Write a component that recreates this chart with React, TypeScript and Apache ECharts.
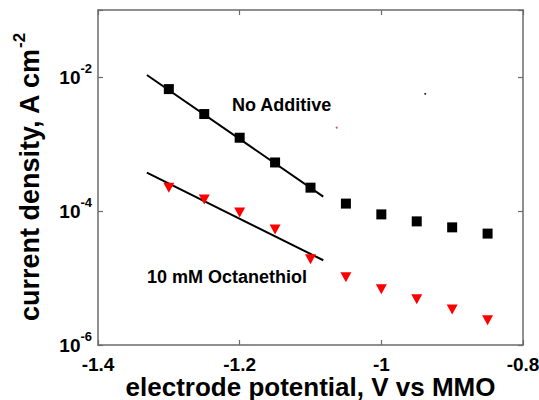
import React, { useEffect, useRef } from "react";
import * as echarts from "echarts";

const potentials = [-1.3, -1.25, -1.2, -1.15, -1.1, -1.05, -1.0, -0.95, -0.9, -0.85];
const noAdditive = [6.6e-3, 2.8e-3, 1.24e-3, 5.3e-4, 2.23e-4, 1.29e-4, 8.9e-5, 7.0e-5, 5.7e-5, 4.6e-5];
const octanethiol = [2.23e-4, 1.48e-4, 9.5e-5, 5.3e-5, 1.9e-5, 1.03e-5, 6.8e-6, 4.8e-6, 3.4e-6, 2.35e-6];
const fitX = [-1.331, -1.082];
const noAdditiveFit = [1.07e-2, 1.64e-4];
const octanethiolFit = [3.74e-4, 1.84e-5];
const strayBlack = [[-0.938, 5.6e-3]];
const strayRed = [[-1.063, 1.75e-3]];
const xTicks = [-1.4, -1.2, -1.0, -0.8];
const yTickExponents = [-6, -4, -2];

const FONT = "'Liberation Sans', Arial, Helvetica, sans-serif";
const FRAME = "#6b6b6b";

export default function App() {
  const ref = useRef<HTMLDivElement>(null);
  useEffect(() => {
    if (!ref.current) return;
    document.body.style.margin = "0";
    const chart = echarts.init(ref.current, undefined, { renderer: "svg" });
    const zip = (xs: number[], ys: number[]) => xs.map((x, i) => [x, ys[i]]);
    const yLabel = (v: number) => {
      const e = Math.round(Math.log10(v));
      if (!yTickExponents.includes(e) || Math.abs(Math.log10(v) - e) > 1e-6) return "";
      return `{b|10}{s|${e}}`;
    };
    const xLabel = (v: number) => {
      const hit = xTicks.find((t) => Math.abs(t - v) < 1e-6);
      return hit === undefined ? "" : String(Math.round(hit * 10) / 10);
    };
    const frameLine = { show: true, onZero: false, lineStyle: { color: FRAME, width: 1.5 } };
    const tick = { show: true, inside: true, length: 5, lineStyle: { color: FRAME, width: 1.2 } };
    chart.setOption({
      animation: false,
      backgroundColor: "#ffffff",
      grid: { left: 98, right: 16, top: 10, bottom: 55, show: false, containLabel: false, outerBoundsMode: "none" },
      xAxis: [
        {
          type: "value",
          min: -1.4,
          max: -0.8,
          interval: 0.2,
          position: "bottom",
          axisLine: frameLine,
          axisTick: tick,
          splitLine: { show: false },
          axisLabel: { color: "#000", fontSize: 19, fontWeight: "bold", fontFamily: FONT, margin: 10, formatter: xLabel },
          name: "electrode potential, V vs MMO",
          nameLocation: "middle",
          nameGap: 29,
          nameMoveOverlap: false,
          nameTextStyle: { color: "#000", fontSize: 26, fontWeight: "bold", fontFamily: FONT },
        },
        {
          type: "value",
          min: -1.4,
          max: -0.8,
          interval: 0.2,
          position: "top",
          axisLine: frameLine,
          axisTick: tick,
          splitLine: { show: false },
          axisLabel: { show: false },
        },
      ],
      yAxis: [
        {
          type: "log",
          logBase: 100,
          min: 1e-6,
          max: 1e-1,
          position: "left",
          axisLine: frameLine,
          axisTick: tick,
          splitLine: { show: false },
          minorTick: { show: false },
          axisLabel: {
            margin: 6,
            formatter: yLabel,
            rich: {
              b: { color: "#000", fontSize: 19, fontWeight: "bold", fontFamily: FONT, lineHeight: 30 },
              s: { color: "#000", fontSize: 13, fontWeight: "bold", fontFamily: FONT, lineHeight: 13, verticalAlign: "top" },
            },
          },
          name: "{m|current density, A cm}{s|-2}",
          nameLocation: "middle",
          nameRotate: 90,
          nameGap: 49,
          nameTextStyle: {
            rich: {
              m: { color: "#000", fontSize: 27, fontWeight: "bold", fontFamily: FONT, lineHeight: 38 },
              s: { color: "#000", fontSize: 17, fontWeight: "bold", fontFamily: FONT, lineHeight: 17, verticalAlign: "top" },
            },
          },
        },
        {
          type: "log",
          logBase: 100,
          min: 1e-6,
          max: 1e-1,
          position: "right",
          axisLine: frameLine,
          axisTick: tick,
          splitLine: { show: false },
          axisLabel: { show: false },
        },
      ],
      series: [
        {
          name: "No Additive fit",
          type: "line",
          data: zip(fitX, noAdditiveFit),
          showSymbol: false,
          symbol: "none",
          lineStyle: { color: "#000", width: 2 },
          z: 2,
        },
        {
          name: "Octanethiol fit",
          type: "line",
          data: zip(fitX, octanethiolFit),
          showSymbol: false,
          symbol: "none",
          lineStyle: { color: "#000", width: 2 },
          z: 2,
        },
        {
          name: "No Additive",
          type: "scatter",
          data: zip(potentials, noAdditive),
          symbol: "rect",
          symbolSize: 10,
          itemStyle: { color: "#000", opacity: 1 },
          z: 3,
        },
        {
          name: "10 mM Octanethiol",
          type: "scatter",
          data: zip(potentials, octanethiol),
          symbol: "triangle",
          symbolRotate: 180,
          symbolSize: [11, 10],
          itemStyle: { color: "#ff0000", opacity: 1 },
          z: 3,
        },
        {
          name: "stray black",
          type: "scatter",
          data: strayBlack,
          symbol: "circle",
          symbolSize: 2,
          itemStyle: { color: "#333", opacity: 1 },
        },
        {
          name: "stray red",
          type: "scatter",
          data: strayRed,
          symbol: "circle",
          symbolSize: 2,
          itemStyle: { color: "#e05050", opacity: 1 },
        },
      ],
      graphic: [
        {
          type: "text",
          left: 232,
          top: 96,
          style: { text: "No Additive", fill: "#000", font: `bold 18px ${FONT}` },
        },
        {
          type: "text",
          left: 147,
          top: 268,
          style: { text: "10 mM Octanethiol", fill: "#000", font: `bold 18px ${FONT}` },
        },
      ],
    });
    return () => chart.dispose();
  }, []);
  return <div ref={ref} style={{ width: 539, height: 400 }} />;
}
